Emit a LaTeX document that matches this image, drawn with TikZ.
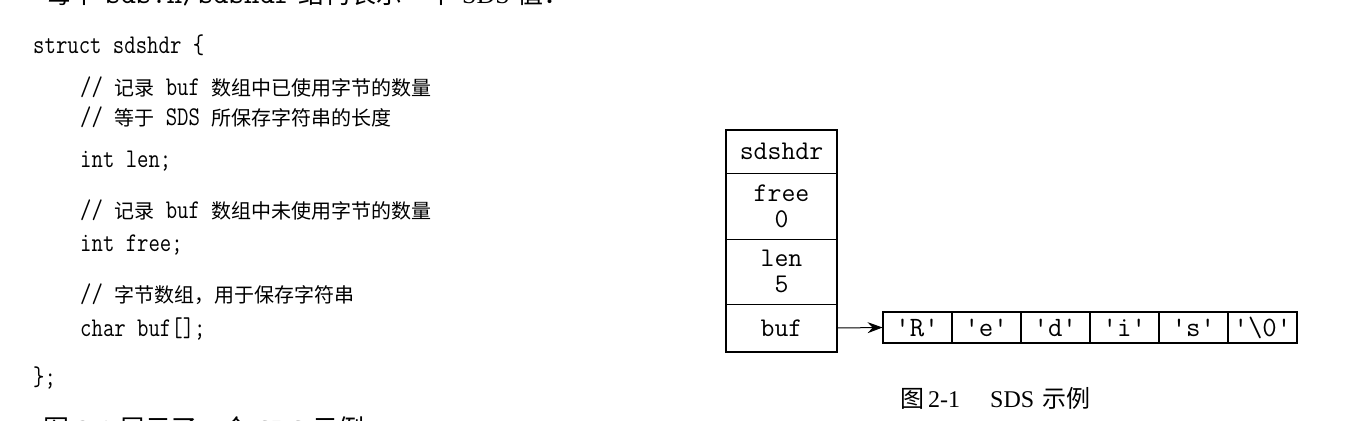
\documentclass[tikz,border=0pt]{standalone}
\usepackage{fontspec}
\newfontfamily\cjk{Noto Sans CJK SC}
\newfontfamily\codefont{Latin Modern Mono}[FakeStretch=0.82,Ligatures=TeXOff]
\newfontfamily\boxfont{Latin Modern Mono}[Ligatures=TeXOff]
\newfontfamily\capfont{Liberation Serif}
\usetikzlibrary{arrows.meta}
\tikzset{
  code/.style={anchor=base west, inner sep=0pt, font=\codefont\fontsize{27}{28}\selectfont},
  body/.style={anchor=base west, inner sep=0pt, font=\fontsize{26}{28}\selectfont},
  cell/.style={draw, line width=0.9pt, minimum width=111pt, inner sep=0pt, align=center,
    font=\boxfont\fontsize{27}{26}\selectfont},
  chr/.style={draw, line width=0.9pt, minimum width=68.17pt, minimum height=31pt, inner sep=0pt,
    font=\boxfont\fontsize{28}{24}\selectfont},
  outer/.style={line width=2pt},
  ptr/.style={line width=1pt, -{Stealth[length=15pt,width=11pt,inset=5pt]}}
}
\newcommand{\zh}[1]{{\cjk\fontsize{20}{24}\selectfont #1}}
\begin{document}
\begin{tikzpicture}[x=1pt,y=-1pt]
\useasboundingbox (0,0) rectangle (1348,420);
\clip (0,0) rectangle (1348,420);
% clipped running text
\node[body] (top) at (45,4) {{\cjk 每个} {\boxfont\fontsize{30}{30}\selectfont sds.h/sdshdr} {\cjk 结构表示一个} {\capfont SDS} {\cjk 值：}};
\node[body] (bottom) at (43,438) {{\cjk 图} {\capfont 2-1} {\cjk 展示了一个} {\capfont SDS} {\cjk 示例：}};
% code
\node[code] (l1) at (33,53) {struct sdshdr \{};
\node[code] (l2) at (80,95) {// \zh{记录} buf \zh{数组中已使用字节的数量}};
\node[code] (l3) at (80,125) {// \zh{等于} SDS \zh{所保存字符串的长度}};
\node[code] (l4) at (80,167) {int len;};
\node[code] (l5) at (80,218) {// \zh{记录} buf \zh{数组中未使用字节的数量}};
\node[code] (l6) at (80,251) {int free;};
\node[code] (l7) at (80,302) {// \zh{字节数组，用于保存字符串}};
\node[code] (l8) at (80,336) {char buf[];};
\node[code] (l9) at (33,385) {\};};
% struct
\node[cell, minimum height=43pt] (hdr) at (781.5,151.5) {sdshdr};
\node[cell, minimum height=66pt] (free) at (781.5,206) {free\\0};
\node[cell, minimum height=65pt] (len) at (781.5,271.5) {len\\5};
\node[cell, minimum height=48pt] (buf) at (781.5,328) {buf};
\draw[outer] (hdr.north west) rectangle (buf.south east);
% array
\node[chr] (a1) at (917.1,327.5) {'R'};
\node[chr, anchor=west] (a2) at (a1.east) {'e'};
\node[chr, anchor=west] (a3) at (a2.east) {'d'};
\node[chr, anchor=west] (a4) at (a3.east) {'i'};
\node[chr, anchor=west] (a5) at (a4.east) {'s'};
\node[chr, anchor=west] (a6) at (a5.east) {'\textbackslash 0'};
\draw[outer] (a1.north west) rectangle (a6.south east);
\draw[ptr] (buf.east) -- (a1.west);
% caption
\node[anchor=base west, inner sep=0pt, font=\fontsize{24}{24}\selectfont] (cap) at (900,407)
  {{\cjk 图}\hspace{4pt}{\capfont 2-1}\hspace{30pt}{\capfont SDS}\hspace{8pt}{\cjk 示例}};
\end{tikzpicture}
\end{document}
